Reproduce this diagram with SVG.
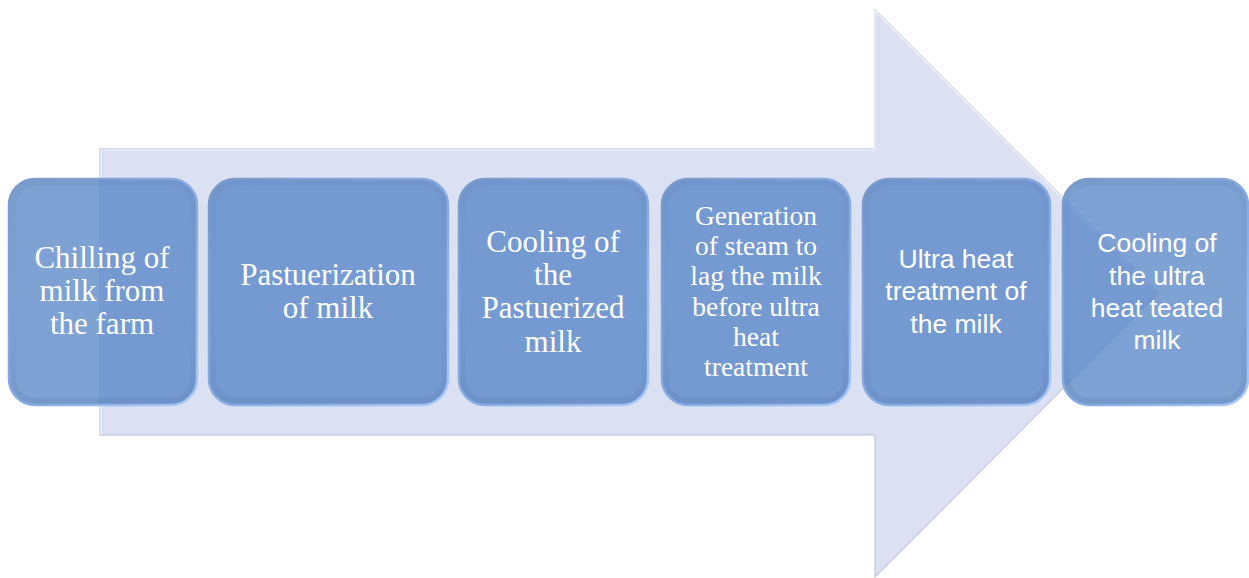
<svg xmlns="http://www.w3.org/2000/svg" width="1249" height="578" viewBox="0 0 1249 578">
  <defs>
    <style>
      .box { fill: rgba(78,126,196,0.72); stroke: url(#edge); stroke-width: 2.5; }
      .shade { fill: none; stroke: url(#inner); stroke-width: 6; opacity: 0.18; }
      .serif { font-family: "Liberation Serif", "Times New Roman", serif; fill: #ffffff; text-anchor: middle; }
      .sans { font-family: "Liberation Sans", Arial, sans-serif; fill: #ffffff; text-anchor: middle; font-size: 26.5px; }
      .arrow { fill: #dbe0f3; stroke: #c9cee2; stroke-width: 1.5; }
    </style>
    <linearGradient id="edge" x1="0" y1="0" x2="1" y2="1">
      <stop offset="0" stop-color="#7a98c6"/>
      <stop offset="0.6" stop-color="#88aee4"/>
      <stop offset="1" stop-color="#a6c9f8"/>
    </linearGradient>
    <linearGradient id="inner" x1="0" y1="0" x2="0" y2="1">
      <stop offset="0" stop-color="#5a7fb5"/>
      <stop offset="0.5" stop-color="#5a7fb5" stop-opacity="0"/>
      <stop offset="1" stop-color="#4a6ea5"/>
    </linearGradient>
  </defs>

  <g id="connectors">
    <polygon id="big-arrow" class="arrow" points="100,149 875,149 875,10 1158,293 875,577 875,435 100,435"/>
    <polyline points="101,434 101,150 875,150 875,11 1157,293" fill="none" stroke="#f1f3fb" stroke-width="1.2"/>
  </g>

  <g id="node1">
    <rect class="box" x="9" y="179" width="188" height="226" rx="26"/>
    <rect class="shade" x="13" y="183" width="180" height="218" rx="23"/>
    <text class="serif" font-size="31" x="102"><tspan x="102" y="268">Chilling of</tspan><tspan x="102" y="301">milk from</tspan><tspan x="102" y="334">the farm</tspan></text>
  </g>

  <g id="node2">
    <rect class="box" x="209" y="179" width="239" height="226" rx="26"/>
    <rect class="shade" x="213" y="183" width="231" height="218" rx="23"/>
    <text class="serif" font-size="31" x="328"><tspan x="328" y="285">Pastuerization</tspan><tspan x="328" y="318">of milk</tspan></text>
  </g>

  <g id="node3">
    <rect class="box" x="459" y="179" width="189" height="226" rx="26"/>
    <rect class="shade" x="463" y="183" width="181" height="218" rx="23"/>
    <text class="serif" font-size="31" x="553"><tspan x="553" y="252">Cooling of</tspan><tspan x="553" y="285">the</tspan><tspan x="553" y="318">Pastuerized</tspan><tspan x="553" y="352">milk</tspan></text>
  </g>

  <g id="node4">
    <rect class="box" x="662" y="179" width="188" height="226" rx="26"/>
    <rect class="shade" x="666" y="183" width="180" height="218" rx="23"/>
    <text class="serif" font-size="27.5" x="756"><tspan x="756" y="225">Generation</tspan><tspan x="756" y="255">of steam to</tspan><tspan x="756" y="285">lag the milk</tspan><tspan x="756" y="316">before ultra</tspan><tspan x="756" y="346">heat</tspan><tspan x="756" y="376">treatment</tspan></text>
  </g>

  <g id="node5">
    <rect class="box" x="863" y="179" width="187" height="226" rx="26"/>
    <rect class="shade" x="867" y="183" width="179" height="218" rx="23"/>
    <text class="sans" x="956"><tspan x="956" y="268">Ultra heat</tspan><tspan x="956" y="300">treatment of</tspan><tspan x="956" y="333">the milk</tspan></text>
  </g>

  <g id="node6">
    <rect class="box" x="1063" y="179" width="185" height="226" rx="26"/>
    <rect class="shade" x="1067" y="183" width="177" height="218" rx="23"/>
    <text class="sans" x="1157"><tspan x="1157" y="252">Cooling of</tspan><tspan x="1157" y="285">the ultra</tspan><tspan x="1157" y="317">heat teated</tspan><tspan x="1157" y="349">milk</tspan></text>
  </g>
</svg>
